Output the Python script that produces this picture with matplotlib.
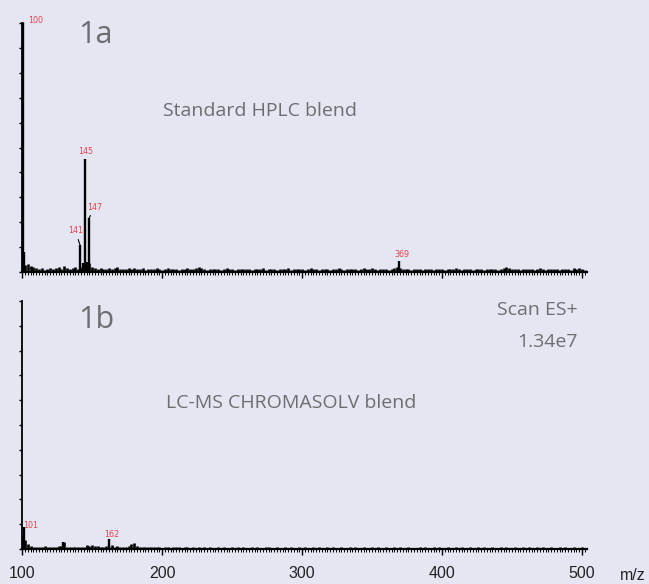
import numpy as np
import matplotlib
matplotlib.use("Agg")
import matplotlib.pyplot as plt
from matplotlib.ticker import MultipleLocator

# ---------------- data ----------------
base_mz = list(range(102, 503, 2))
base_a = [3.0, 3.4, 2.6, 2.0, 1.6, 1.2, 1.5, 1.0, 1.4, 1.8, 1.2, 1.6, 2.2, 1.4, 2.6, 1.8, 1.2, 1.5, 2.0, 1.3,
          2.2, 3.0, 2.5, 3.5, 2.0, 1.6, 1.2, 1.8, 1.4, 1.1, 1.6, 1.2, 1.5, 2.0, 1.3, 1.1, 1.4, 1.8, 1.2, 1.5,
          1.1, 1.3, 1.6, 1.0, 1.2, 1.4, 1.1, 1.5, 1.2, 1.0, 1.3, 1.6, 1.1, 1.2, 1.4, 1.0, 1.3, 1.2, 1.5, 1.1,
          1.4, 1.8, 2.2, 1.6, 1.2, 1.0, 1.3, 1.1, 1.4, 1.2, 1.0, 1.3, 1.5, 1.1, 1.2, 1.0, 1.4, 1.2, 1.1, 1.3,
          1.2, 1.0, 1.4, 1.1, 1.3, 1.6, 1.0, 1.2, 1.1, 1.4, 1.0, 1.3, 1.2, 1.1, 1.5, 1.0, 1.2, 1.3, 1.1, 1.4,
          1.0, 1.2, 1.5, 1.1, 1.3, 1.0, 1.2, 1.4, 1.1, 1.0, 1.3, 1.2, 1.6, 1.1, 1.0, 1.2, 1.4, 1.1, 1.3, 1.0,
          1.2, 1.5, 1.1, 1.3, 1.8, 1.2, 1.0, 1.1, 1.3, 1.2, 1.0, 1.4, 1.6, 2.0, 1.5, 1.2, 1.1, 1.3, 1.0, 1.2,
          1.1, 1.3, 1.0, 1.2, 1.4, 1.1, 1.0, 1.2, 1.3, 1.1, 1.0, 1.2, 1.4, 1.1, 1.7, 1.3, 1.0, 1.2, 1.1, 1.3,
          1.0, 1.2, 1.4, 1.1, 1.0, 1.3, 1.2, 1.1, 1.4, 1.0, 1.2, 1.5, 2.2, 1.8, 1.3, 1.1, 1.2, 1.0, 1.3, 1.4,
          1.1, 1.3, 1.0, 1.2, 1.6, 1.1, 1.0, 1.3, 1.2, 1.1, 1.4, 1.0, 1.2, 1.1, 1.3, 1.0, 1.5, 1.2, 1.6, 1.1,
          1.0]
base_b = [3.5, 2.0, 1.2, 0.9, 1.0, 0.7, 0.9, 1.1, 0.8, 0.7, 1.0, 0.8, 1.2, 1.4, 3.0, 0.8, 0.9, 0.7, 1.0, 0.8,
          0.9, 1.0, 1.8, 1.2, 1.6, 1.3, 1.1, 0.9, 1.0, 1.2, 0.9, 1.5, 0.8, 1.1, 1.0, 0.9, 1.0, 1.4, 2.0, 2.4,
          1.2, 0.9, 1.0, 0.8, 0.9, 0.7, 0.8, 1.0, 0.7, 0.6, 0.8, 0.7, 0.6, 0.8, 0.7, 0.9, 0.6, 0.7, 0.8, 0.6,
          0.7, 0.6, 0.8, 0.5, 0.7, 0.6, 0.9, 0.6, 0.5, 0.7, 0.6, 0.8, 0.5, 0.6, 0.7, 0.5, 0.8, 0.6, 0.7, 0.5,
          0.6, 0.8, 0.5, 0.7, 0.6, 0.5, 0.7, 0.8, 0.6, 0.5, 0.7, 0.6, 0.5, 0.8, 0.6, 0.7, 0.5, 0.6, 0.7, 0.5,
          0.7, 0.5, 0.6, 0.8, 0.5, 0.7, 0.6, 0.5, 0.7, 0.6, 0.8, 0.5, 0.6, 0.7, 0.5, 0.6, 0.8, 0.5, 0.7, 0.6,
          0.5, 0.7, 0.6, 0.5, 0.8, 0.6, 0.7, 0.5, 0.6, 0.7, 0.5, 0.6, 0.8, 0.5, 0.7, 0.6, 0.5, 0.7, 0.6, 0.5,
          0.6, 0.8, 0.5, 0.7, 0.6, 0.5, 0.7, 0.6, 0.8, 0.5, 0.6, 0.7, 0.5, 0.6, 0.8, 0.5, 0.7, 0.6, 0.5, 0.7,
          0.6, 0.5, 0.7, 0.6, 0.8, 0.5, 0.6, 0.7, 0.5, 0.6, 0.8, 0.5, 0.7, 0.6, 0.5, 0.7, 0.6, 0.5, 0.8, 0.6,
          0.7, 0.5, 0.6, 0.8, 0.5, 0.7, 0.6, 0.5, 0.7, 0.6, 0.5, 0.8, 0.6, 0.7, 0.5, 0.6, 0.7, 0.5, 0.6, 0.7,
          0.6]

peaks_a_mz = [100.3, 100.9, 141.2, 143.6, 145.0, 146.2, 147.6, 369.0]
peaks_a_int = [100.0, 8.0, 11.0, 3.5, 45.5, 4.0, 21.5, 4.5]
peaks_b_mz = [100.3, 100.9, 129.0, 162.0]
peaks_b_int = [5.0, 9.0, 3.0, 4.0]

# (label, peak m/z, peak intensity, label m/z, label intensity, leader line)
labels_a = [("100", 100.3, 100.0, 109.3, 101.2, True), ("145", 145.0, 45.5, 145.0, 48.2, False),
            ("147", 147.6, 21.5, 152.1, 26.1, True), ("141", 141.2, 11.0, 137.9, 16.5, True),
            ("369", 369.0, 4.5, 371.4, 7.2, False)]
labels_b = [("101", 100.9, 9.0, 105.7, 9.3, False), ("162", 162.0, 4.0, 163.6, 6.0, False)]

xticks = [100, 200, 300, 400, 500]

BG = "#e4e6f2"
GREY = "#6e6e70"
RED = "#e8434f"

W, H = 649, 584
fig = plt.figure(figsize=(W / 100, H / 100), dpi=100, facecolor=BG)


def fx(px):
    return px / W


def fy(py):
    return 1 - py / H


def style(ax, show_labels):
    ax.set_facecolor(BG)
    ax.set_xlim(99.8, 503.6)
    ax.set_ylim(0, 100)
    for s in ["top", "right"]:
        ax.spines[s].set_visible(False)
    ax.spines["left"].set_linewidth(1.3)
    ax.spines["bottom"].set_linewidth(1.6)
    ax.set_yticks(np.arange(0, 101, 10))
    ax.yaxis.set_major_formatter(plt.NullFormatter())
    ax.tick_params(axis="y", direction="out", length=2.5, width=1.0)
    ax.set_xticks(xticks)
    ax.xaxis.set_minor_locator(MultipleLocator(2))
    ax.tick_params(axis="x", which="major", direction="out", length=4, width=1.0,
                   pad=8, labelsize=11.5, labelcolor="#222222")
    ax.tick_params(axis="x", which="minor", direction="out", length=2.5, width=0.7)
    if not show_labels:
        ax.xaxis.set_major_formatter(plt.NullFormatter())


def draw(ax, bint, pmz, pint):
    ax.vlines(base_mz, 0, bint, color="black", lw=1.9)
    ax.vlines(pmz, 0, pint, color="black", lw=1.7)


def lab(ax, items):
    for t, x, y, tx, ty, lead in items:
        ax.annotate(t, xy=(x, y), xytext=(tx, ty), textcoords="data",
                    fontsize=5.8, color=RED, ha="center", va="center",
                    family=["Liberation Sans Narrow", "DejaVu Sans"], annotation_clip=False,
                    arrowprops=dict(arrowstyle="-", color="black", lw=0.8,
                                    shrinkA=1, shrinkB=0) if lead else None)


axa = fig.add_axes([fx(22), fy(272), fx(587) - fx(22), fy(23) - fy(272)])
draw(axa, base_a, peaks_a_mz, peaks_a_int)
style(axa, False)
lab(axa, labels_a)

axb = fig.add_axes([fx(22), fy(549), fx(587) - fx(22), fy(301) - fy(549)])
draw(axb, base_b, peaks_b_mz, peaks_b_int)
style(axb, True)
lab(axb, labels_b)

font = ["Open Sans", "DejaVu Sans"]
fig.text(fx(95), fy(35), "1a", fontsize=22, color=GREY, ha="center", va="center", family=font)
fig.text(fx(96), fy(320), "1b", fontsize=22, color=GREY, ha="center", va="center", family=font)
fig.text(fx(260), fy(109), "Standard HPLC blend", fontsize=14, color=GREY, ha="center", va="center_baseline", family=font)
fig.text(fx(291), fy(401), "LC-MS CHROMASOLV blend", fontsize=14, color=GREY, ha="center", va="center_baseline", family=font)
fig.text(fx(578), fy(308), "Scan ES+", fontsize=14, color=GREY, ha="right", va="center_baseline", family=font)
fig.text(fx(578), fy(340), "1.34e7", fontsize=14, color=GREY, ha="right", va="center_baseline", family=font)
fig.text(fx(633), fy(575), "m/z", fontsize=11.5, color="#222222", ha="center", va="center",
         family=["Liberation Sans", "DejaVu Sans"])

for t in axb.get_xticklabels():
    t.set_family(["Liberation Sans", "DejaVu Sans"])

fig.savefig("out.png", dpi=100, facecolor=BG)
